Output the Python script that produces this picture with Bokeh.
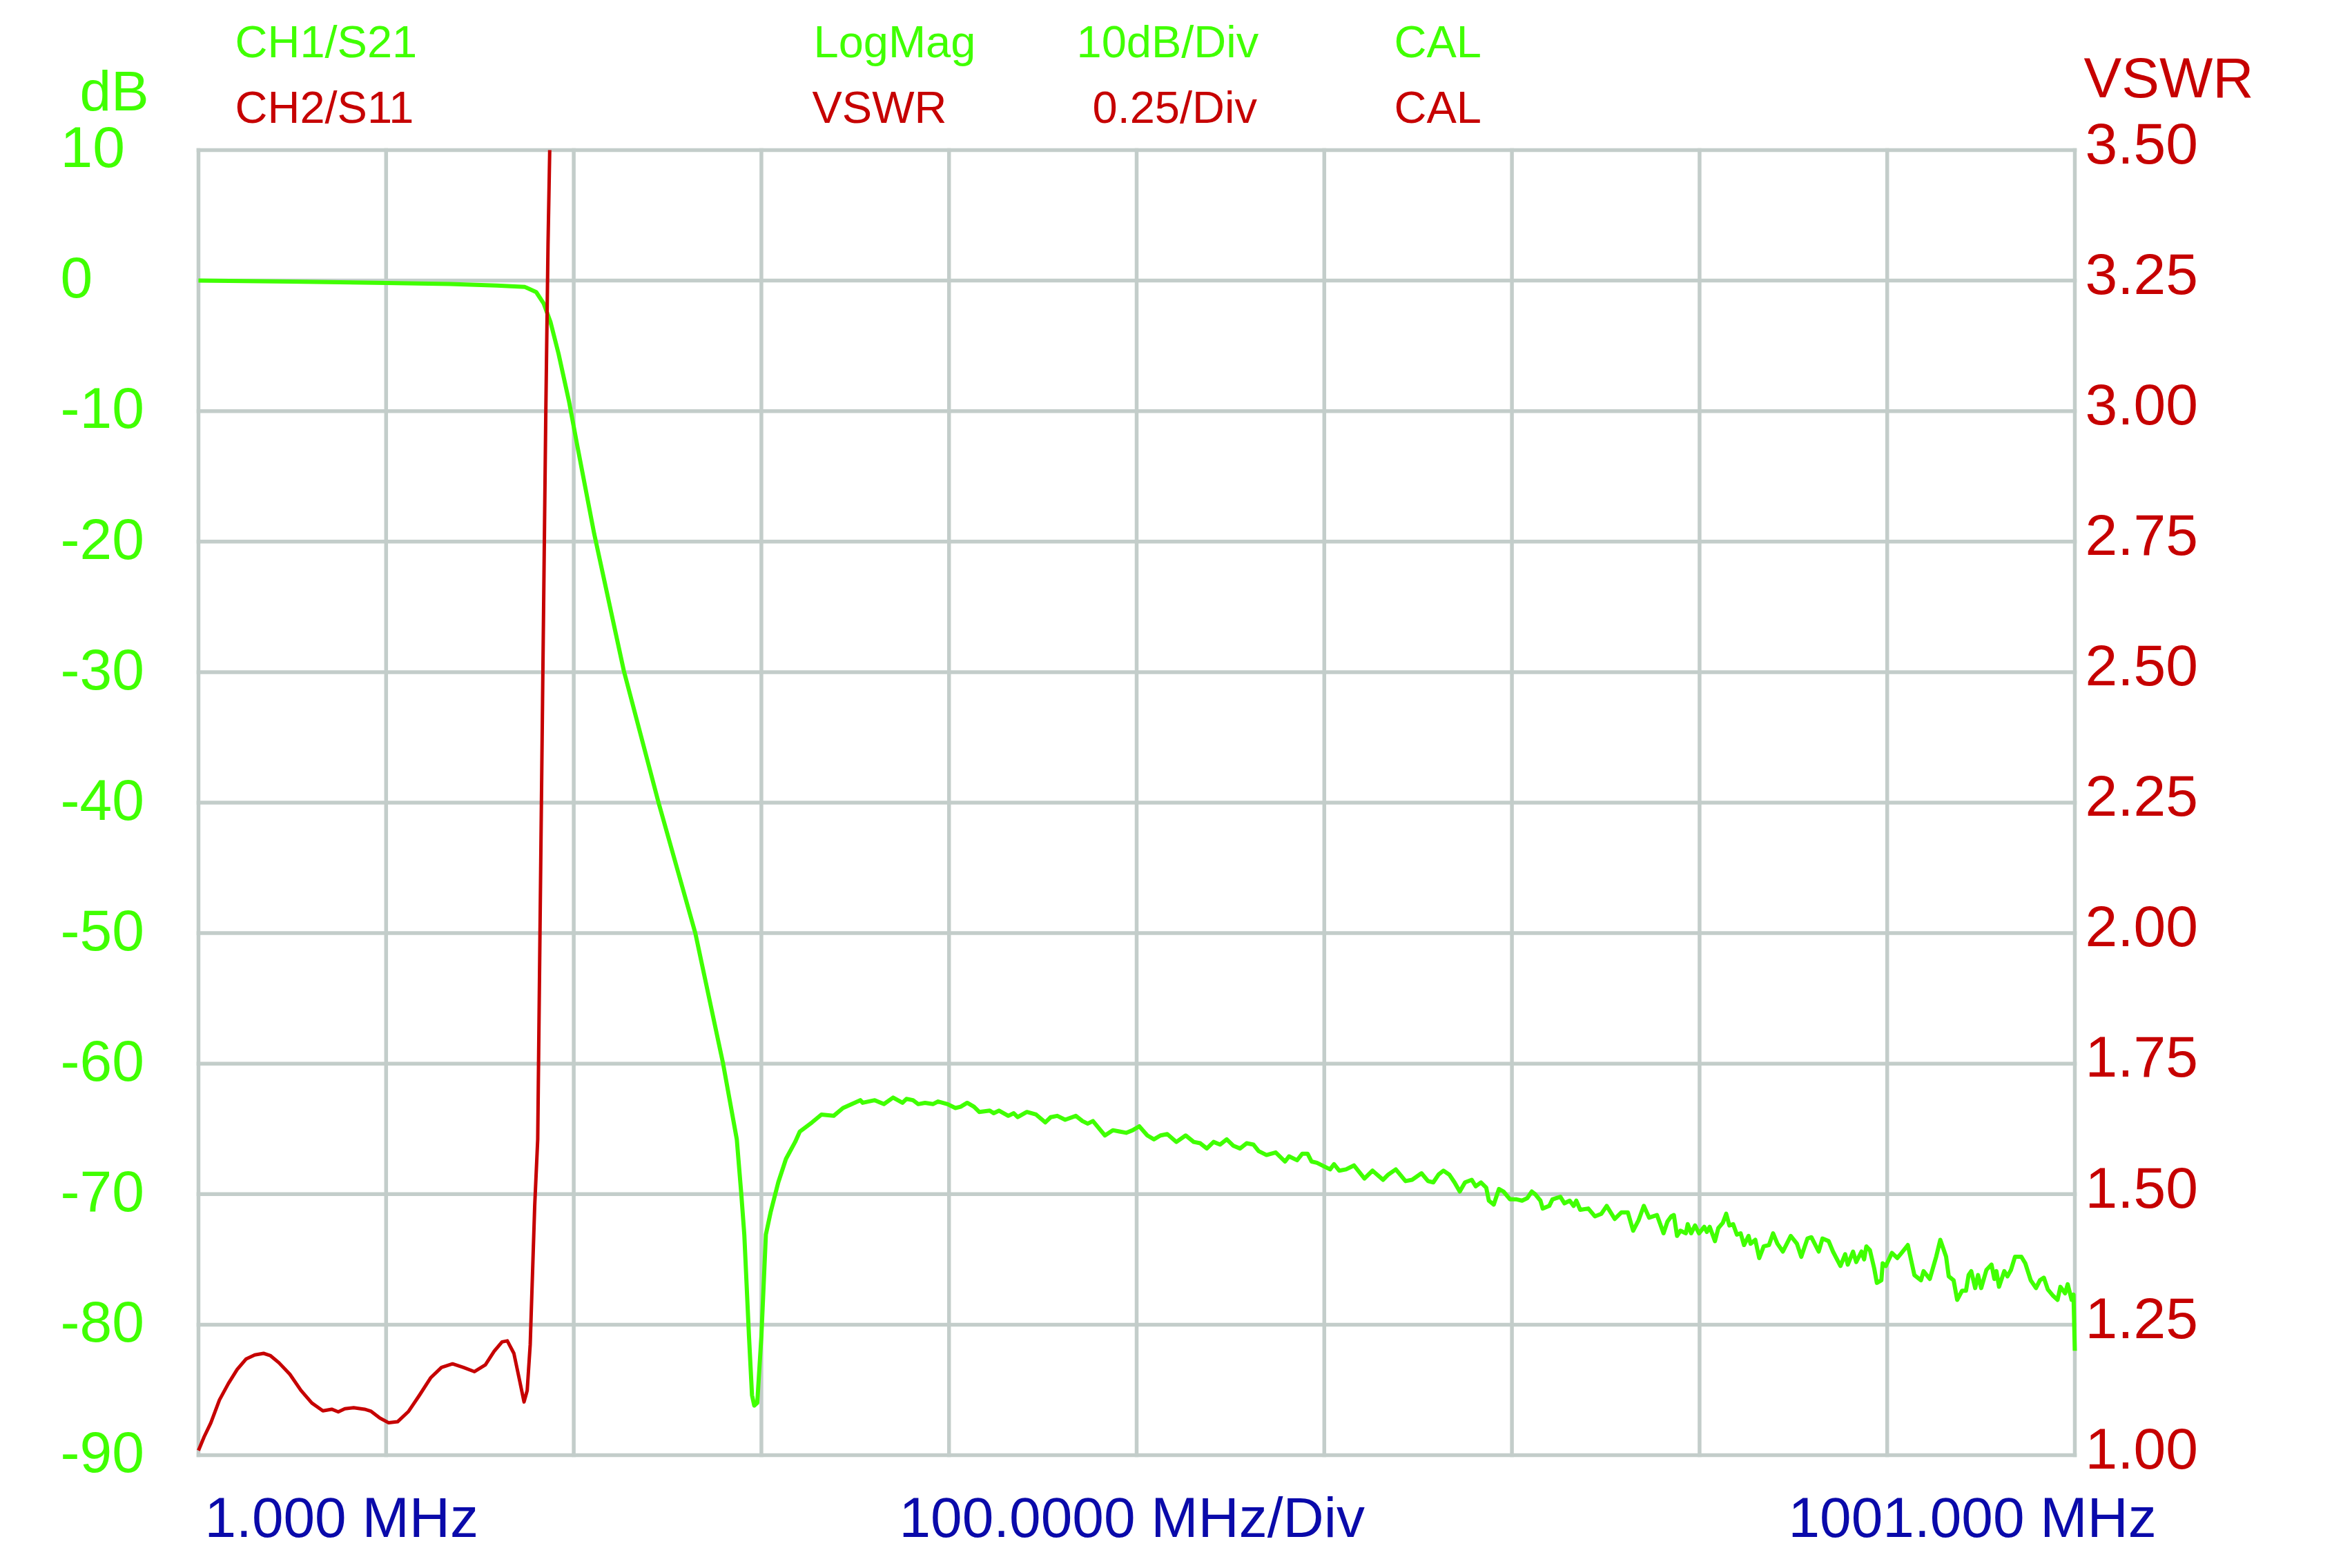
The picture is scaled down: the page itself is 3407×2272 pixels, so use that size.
from bokeh.plotting import figure
from bokeh.models import Range1d
from bokeh.core.properties import value
from bokeh.embed import file_html
from bokeh.resources import INLINE

# ---------------- data ----------------
x_ticks = [1, 101, 201, 301, 401, 501, 601, 701, 801, 901, 1001]
db_ticks = [10, 0, -10, -20, -30, -40, -50, -60, -70, -80, -90]
vswr_ticks = [1.00, 1.25, 1.50, 1.75, 2.00, 2.25, 2.50, 2.75, 3.00, 3.25, 3.50]

# CH1 / S21 (MHz, dB)
s21_freq = [1, 50, 101, 135, 160, 175, 181, 185, 188.6, 192.9, 198.4, 202.7, 211.9,
            227.7, 246.2, 265.8, 280.6, 287.9, 290.3, 291.9, 294.4, 296.0, 297.2,
            298.8, 301.0, 303.4, 305.9, 310.0, 314.1, 319.0, 321.5, 328.0, 333.0,
            339.5, 344.5, 353.7,
            355.0, 361.4, 366.3, 371.2, 376.2, 378.3, 381.8, 384.6, 388.2, 392.4,
            395.2, 400.2, 404.4, 407.2, 410.7, 414.3, 417.1, 422.7, 424.8, 427.7,
            432.6, 435.5, 437.6, 442.5, 447.4, 452.3, 455.2, 458.7, 462.9, 468.6,
            472.1, 474.9, 477.7, 480.6, 484.1, 488.3, 491.8, 495.4, 498.9, 502.4,
            506.7, 510.2, 513.7, 517.3, 522.2, 527.1, 531.4, 534.9, 538.4, 542.0,
            545.5, 549.0, 552.6, 556.1, 559.6, 563.2, 566.0, 570.2, 575.1,
            580.1, 582.2, 586.5, 589.3, 592.1, 594.2, 597.1, 601.3, 604.1, 606.2,
            609.0, 612.6, 616.8, 622.4, 626.7, 632.3, 635.1, 639.1, 644.3, 647.8,
            652.8, 656.3, 659.1, 661.9, 664.5, 667.6, 670.4, 673.2, 676.0, 679.6,
            681.7, 684.5, 687.3, 688.7, 691.3, 694.1, 696.5, 700.0, 703.5, 706.4,
            709.2, 711.6, 713.4, 716.2, 717.4, 720.9, 722.6, 726.8, 729.0, 731.8,
            733.9, 735.3, 737.4, 741.7, 745.2, 748.7, 751.5, 755.8, 759.3, 762.8,
            765.6, 768.5, 771.3, 774.1, 778.3, 781.8, 783.9,
            785.9, 787.3, 789.0, 790.8, 793.7, 794.7, 796.5, 798.6, 800.7, 803.5,
            804.9, 806.4, 809.2, 811.0, 813.4, 815.2, 816.9, 818.9, 820.9, 822.9,
            824.7, 827.1, 828.2, 830.7, 832.8, 835.2, 838.0, 840.2, 842.5, 845.4,
            849.6, 852.9, 855.2, 858.5, 860.6, 864.5, 866.5, 869.8, 872.1, 876.1,
            878.6, 880.0, 882.8, 884.5, 887.3, 888.7, 889.9, 891.8, 894.1, 895.5,
            897.9, 898.6, 900.3, 903.5, 906.4, 908.7, 912.0, 915.5, 919.0, 920.4,
            923.7, 927.1, 929.3, 932.4, 933.8, 936.4, 938.3, 940.9, 943.0, 944.4,
            945.8, 947.9, 949.4, 951.1, 953.9, 956.6, 958.1, 959.2, 960.6, 963.4,
            965.1, 967.0, 969.1, 972.5, 974.6, 977.5, 980.3, 982.4, 984.5, 986.6,
            989.5, 991.8, 993.3, 995.8, 997.2, 999.3, 1000.3, 1001.0]
s21_db = [0.0, -0.08, -0.18, -0.26, -0.38, -0.49, -0.88, -1.76, -3.17, -5.6, -9.2, -12.5, -19.4,
          -29.9, -40.0, -50.0, -60.0, -65.8, -70.0, -73.1, -80.9, -85.4, -86.2,
          -86.0, -80.9, -73.1, -71.4, -69.1, -67.3, -66.0, -65.2, -64.5, -63.9,
          -64.0, -63.4, -62.8,
          -63.0, -62.8, -63.1, -62.6, -63.0, -62.7, -62.8, -63.1, -63.0, -63.1,
          -62.9, -63.1, -63.4, -63.3, -63.0, -63.3, -63.7, -63.6, -63.8, -63.6,
          -64.0, -63.8, -64.1, -63.7, -63.9, -64.5, -64.1, -64.0, -64.3, -64.0,
          -64.4, -64.6, -64.4, -64.9, -65.5, -65.1, -65.2, -65.3, -65.1, -64.8,
          -65.5, -65.8, -65.5, -65.4, -66.0, -65.5, -66.0, -66.1, -66.5, -66.0,
          -66.2, -65.8, -66.3, -66.5, -66.1, -66.2, -66.7, -67.0, -66.8,
          -67.5, -67.1, -67.4, -66.9, -66.9, -67.5, -67.6, -67.9, -68.1, -67.7,
          -68.2, -68.1, -67.8, -68.8, -68.2, -68.9, -68.5, -68.1, -69.0, -68.9,
          -68.4, -69.0, -69.1, -68.5, -68.2, -68.5, -69.1, -69.8, -69.1, -68.9,
          -69.4, -69.1, -69.5, -70.5, -70.8, -69.6, -69.8, -70.4, -70.4, -70.5,
          -70.3, -69.8, -70.0, -70.5, -71.1, -70.9, -70.4, -70.2, -70.7, -70.5,
          -70.9, -70.5, -71.2, -71.1, -71.7, -71.5, -70.9, -71.9, -71.4, -71.4,
          -72.8, -72.0, -70.9, -71.8, -71.6, -73.0, -72.1,
          -71.7, -71.6, -73.2, -72.8, -73.0, -72.3, -73.0, -72.4, -73.0, -72.5,
          -72.9, -72.5, -73.6, -72.6, -72.2, -71.5, -72.4, -72.3, -73.1, -73.0,
          -73.9, -73.2, -73.8, -73.5, -74.9, -74.0, -73.9, -73.0, -73.8, -74.4,
          -73.2, -73.8, -74.8, -73.4, -73.3, -74.4, -73.4, -73.6, -74.4, -75.5,
          -74.6, -75.4, -74.4, -75.2, -74.4, -75.0, -74.0, -74.3, -75.7, -76.8,
          -76.6, -75.3, -75.5, -74.5, -74.9, -74.5, -73.9, -76.2, -76.6, -75.9,
          -76.5, -74.8, -73.5, -74.8, -76.3, -76.6, -78.1, -77.4, -77.4, -76.2,
          -75.9, -77.2, -76.2, -77.2, -75.8, -75.4, -76.5, -75.9, -77.1, -75.9,
          -76.3, -75.8, -74.8, -74.8, -75.3, -76.6, -77.2, -76.6, -76.4, -77.3,
          -77.8, -78.1, -77.1, -77.6, -76.9, -78.1, -77.7, -82.0]

# CH2 / S11 (MHz, VSWR)
s11_freq = [1.0, 4.0, 7.6, 12.2, 16.9, 21.6, 26.3, 31.0, 35.7, 39.2, 43.9, 49.7, 55.6,
            61.4, 67.3, 72.0, 75.5, 79.0, 83.7, 89.5, 93.0, 97.7, 102.4, 107.1, 113.0,
            118.8, 124.7, 130.5, 136.4, 142.2, 148.1, 153.9, 158.6, 162.8, 165.6,
            169.1, 172.2, 174.5, 176.2, 177.8, 180.2, 181.8, 183.7, 186.1, 187.3, 188.2]
s11_vswr = [1.009, 1.035, 1.062, 1.106, 1.137, 1.164, 1.184, 1.192, 1.195, 1.191, 1.177,
            1.155, 1.124, 1.100, 1.085, 1.088, 1.083, 1.089, 1.091, 1.088, 1.084, 1.071,
            1.062, 1.064, 1.084, 1.115, 1.148, 1.168, 1.175, 1.168, 1.160, 1.173, 1.199,
            1.217, 1.219, 1.195, 1.142, 1.102, 1.124, 1.212, 1.478, 1.605, 2.228, 2.995,
            3.32, 3.50]

# texts
db_labels = ["10", "0", "-10", "-20", "-30", "-40", "-50", "-60", "-70", "-80", "-90"]
vswr_labels = ["1.00", "1.25", "1.50", "1.75", "2.00", "2.25", "2.50", "2.75", "3.00", "3.25", "3.50"]
ch1_texts = ["CH1/S21", "LogMag", "10dB/Div", "CAL"]
ch2_texts = ["CH2/S11", "VSWR", "0.25/Div", "CAL"]
x_texts = ["1.000 MHz", "100.0000 MHz/Div", "1001.000 MHz"]

# ---------------- style / layout ----------------
GREEN = "#40FF00"
RED = "#C60000"
BLUE = "#0A0AAA"
GRID = "#C3CDCA"
FONT = "Liberation Sans"

W, H = 3407, 2272
# plot box in canvas pixels
FL, FT, FR, FB = 287, 217, 3005, 2108
FW, FH = FR - FL, FB - FT
X0, X1 = 1, 1001          # MHz
Y0, Y1 = -90, 10          # dB
V0, V1 = 1.0, 3.5         # VSWR
SHIFT = 0.36              # renderer baseline correction (fraction of font size)


def dx(px):
    return X0 + (px - FL) / FW * (X1 - X0)


def dy(py, fs=0.0):
    return Y1 - (py - SHIFT * fs - FT) / FH * (Y1 - Y0)


p = figure(width=W, height=H,
           x_range=Range1d(dx(0), dx(W)), y_range=Range1d(dy(H), dy(0)),
           output_backend="svg", toolbar_location=None,
           x_axis_location=None, y_axis_location=None,
           min_border_left=0, min_border_right=0, min_border_top=0, min_border_bottom=0,
           background_fill_color="white", border_fill_color="white",
           outline_line_color=None)
p.extra_y_ranges = {"vswr": Range1d(V1 - (H - FT) / FH * (V1 - V0),
                                    V1 + FT / FH * (V1 - V0))}
p.grid.visible = False

# graticule
n = len(x_ticks)
m = len(db_ticks)
p.segment(x0=x_ticks, y0=[Y0] * n, x1=x_ticks, y1=[Y1] * n,
          line_color=GRID, line_width=5.5, line_cap="square")
p.segment(x0=[X0] * m, y0=db_ticks, x1=[X1] * m, y1=db_ticks,
          line_color=GRID, line_width=5.5, line_cap="square")

# traces
p.line(s21_freq, s21_db, line_color=GREEN, line_width=6, line_join="round")
p.line(s11_freq, s11_vswr, y_range_name="vswr", line_color=RED, line_width=5,
       line_join="round")


def txt(xs_px, ys_px, texts, color, fs):
    p.text(x=[dx(v) for v in xs_px], y=[dy(v, fs) for v in ys_px], text=texts,
           text_color=color, text_font=value(FONT), text_font_size=value(f"{fs}px"),
           text_align="left", text_baseline="alphabetic")


def tick_py(v, lo, hi):
    return FT + (hi - v) / (hi - lo) * FH


# left dB scale (left aligned) and right VSWR scale
txt([87] * m, [tick_py(v, Y0, Y1) + 26 for v in db_ticks], db_labels, GREEN, 84)
txt([3020] * len(vswr_ticks), [tick_py(v, V0, V1) + 20.5 for v in vswr_ticks],
    vswr_labels, RED, 84)

# scale titles
txt([115], [161], ["dB"], GREEN, 82)
txt([3018], [142], ["VSWR"], RED, 82)

# header rows
txt([340, 1178, 1559, 2019], [83] * 4, ch1_texts, GREEN, 65)
txt([340, 1176, 1582, 2019], [178] * 4, ch2_texts, RED, 65)

# frequency annotations
txt([296, 1302, 2590], [2228] * 3, x_texts, BLUE, 82)

open("out.html", "w").write(file_html(p, INLINE))
